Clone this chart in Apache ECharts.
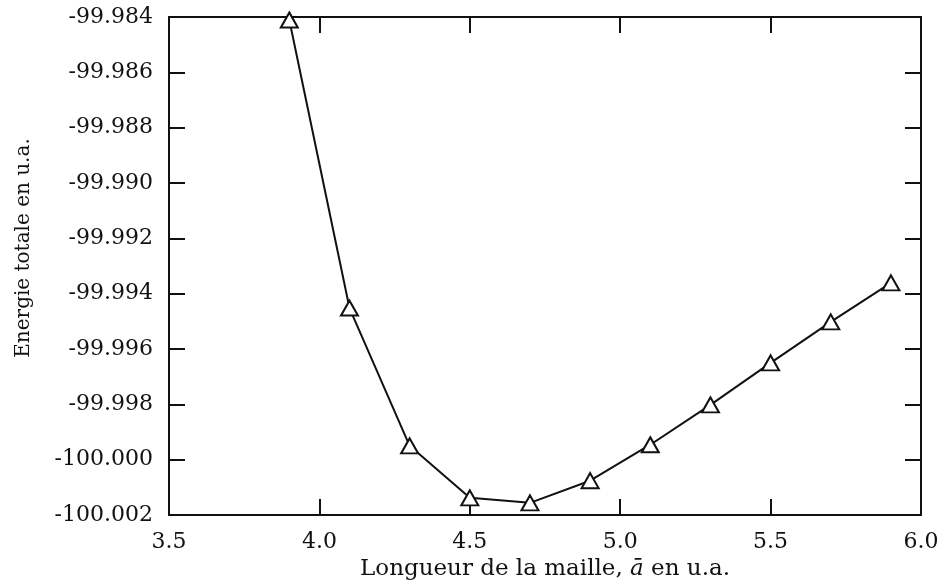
<!DOCTYPE html>
<html>
<head>
<meta charset="utf-8">
<script src="https://cdn.jsdelivr.net/npm/echarts@6/dist/echarts.min.js"></script>
<style>html,body{margin:0;padding:0;background:#fff}#c{width:943px;height:586px}</style>
</head>
<body>
<div id="c"></div>
<script>
var latticeA = [3.9, 4.1, 4.3, 4.5, 4.7, 4.9, 5.1, 5.3, 5.5, 5.7, 5.9];
var energy = [-99.98411, -99.99452, -99.99950, -100.00138, -100.00156, -100.00076, -99.99946, -99.99802, -99.99650, -99.99502, -99.99361];
var xTicks = {min: 3.5, max: 6.0, step: 0.5};
var yTicks = {min: -100.002, max: -99.984, step: 0.002};

var font = 'DejaVu Serif';
var chart = echarts.init(document.getElementById('c'), null, {renderer: 'canvas'});
var axisLine = {show: true, lineStyle: {color: '#111', width: 2}};
var tick = {show: true, inside: true, length: 16, lineStyle: {color: '#111', width: 2}};
var data = latticeA.map(function (x, i) { return [x, energy[i]]; });

chart.setOption({
  backgroundColor: '#fff',
  animation: false,
  grid: {left: 169, right: 22, top: 17, bottom: 71},
  xAxis: [{
    type: 'value', min: xTicks.min, max: xTicks.max, interval: xTicks.step,
    axisLine: axisLine, axisTick: tick, splitLine: {show: false},
    axisLabel: {margin: 16, color: '#111', fontFamily: font, fontSize: 22,
      formatter: function (v) { return v.toFixed(1); }},
    name: 'Longueur de la maille, {i|ā} en u.a.', nameLocation: 'middle', nameGap: 40,
    nameTextStyle: {color: '#111', fontFamily: font, fontSize: 23,
      rich: {i: {fontStyle: 'italic', fontFamily: font, fontSize: 23, color: '#111'}}}
  }, {
    type: 'value', position: 'top', min: xTicks.min, max: xTicks.max, interval: xTicks.step,
    axisLine: axisLine, axisTick: tick, axisLabel: {show: false}, splitLine: {show: false}
  }],
  yAxis: [{
    type: 'value', min: yTicks.min, max: yTicks.max, interval: yTicks.step,
    axisLine: axisLine, axisTick: tick, splitLine: {show: false},
    axisLabel: {margin: 16, color: '#111', fontFamily: font, fontSize: 22,
      formatter: function (v) { return v.toFixed(3); }},
    name: 'Energie totale en u.a.', nameLocation: 'middle', nameGap: 135, nameRotate: 90,
    nameTextStyle: {color: '#111', fontFamily: font, fontSize: 20, padding: [0, 0, 0, 36]}
  }, {
    type: 'value', position: 'right', min: yTicks.min, max: yTicks.max, interval: yTicks.step,
    axisLine: axisLine, axisTick: tick, axisLabel: {show: false}, splitLine: {show: false}
  }],
  series: [{
    type: 'line', data: data, xAxisIndex: 0, yAxisIndex: 0,
    symbol: 'triangle', symbolSize: [17, 15], showAllSymbol: true,
    lineStyle: {color: '#111', width: 2},
    itemStyle: {color: '#fff', borderColor: '#111', borderWidth: 2},
    clip: false
  }]
});
</script>
</body>
</html>
